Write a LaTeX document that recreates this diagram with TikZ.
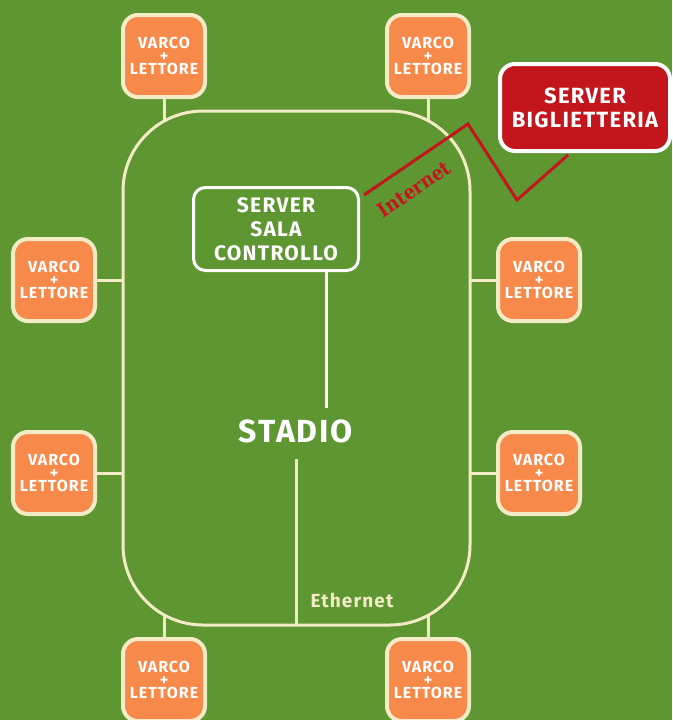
\documentclass[tikz,border=0pt]{standalone}
\usepackage{fontspec}
\setmainfont{Fira Sans}[LetterSpace=6]
\newfontfamily\serifbold{DejaVu Serif Condensed Bold}
\definecolor{bggreen}{HTML}{5E9632}
\definecolor{cream}{HTML}{F3EBC6}
\definecolor{orangebox}{HTML}{F7894A}
\definecolor{redbox}{HTML}{C3161C}
\tikzset{
  varco/.style={draw=cream, line width=4pt, fill=orangebox, rounded corners=15pt,
    minimum width=82pt, minimum height=82pt, inner sep=0pt, align=center,
    text=white, font=\bfseries\fontsize{16}{13}\selectfont},
  conn/.style={draw=cream, line width=3pt},
  serverbox/.style={draw=white, line width=3pt, rounded corners=12pt,
    minimum width=165pt, minimum height=83pt, inner sep=0pt, align=center,
    text=white, font=\bfseries\fontsize{21}{24}\selectfont},
  ticketbox/.style={draw=white, line width=4pt, fill=redbox, rounded corners=15pt,
    minimum width=170pt, minimum height=87pt, inner sep=0pt, align=center,
    text=white, font=\bfseries\fontsize{22}{24}\selectfont},
}
\begin{document}
\begin{tikzpicture}[x=1pt,y=-1pt]
\fill[bggreen] (0,0) rectangle (672,720);
\useasboundingbox (0,0) rectangle (672,720);
% stadium
\draw[conn, rounded corners=80pt] (123,111) rectangle (470,625);
% stadium boundary points
\coordinate (t1) at (164,121);
\coordinate (t2) at (428,121);
\coordinate (b1) at (164,615);
\coordinate (b2) at (428,615);
\coordinate (l1) at (123,280);
\coordinate (l2) at (123,473);
\coordinate (r1) at (470,280);
\coordinate (r2) at (470,473);
\coordinate (sb) at (296,625);
% gates
\node[varco] (v1) at (164,56) {VARCO\\+\\LETTORE};
\node[varco] (v2) at (428,56) {VARCO\\+\\LETTORE};
\node[varco] (v3) at (54,280) {VARCO\\+\\LETTORE};
\node[varco] (v4) at (54,473) {VARCO\\+\\LETTORE};
\node[varco] (v5) at (539,280) {VARCO\\+\\LETTORE};
\node[varco] (v6) at (539,473) {VARCO\\+\\LETTORE};
\node[varco] (v7) at (164,680) {VARCO\\+\\LETTORE};
\node[varco] (v8) at (428,680) {VARCO\\+\\LETTORE};
\draw[conn] (v1.south) -- (t1);
\draw[conn] (v2.south) -- (t2);
\draw[conn] (v3.east) -- (l1);
\draw[conn] (v4.east) -- (l2);
\draw[conn] (v5.west) -- (r1);
\draw[conn] (v6.west) -- (r2);
\draw[conn] (v7.north) -- (b1);
\draw[conn] (v8.north) -- (b2);
% server sala controllo
\node[serverbox] (srv) at (276,229) {SERVER\\SALA\\CONTROLLO};
\coordinate (sc) at (326,408);
\draw[white, line width=3pt] (srv.south -| sc) -- (sc);
% stadio
\node[text=white, font=\bfseries\fontsize{32}{32}\selectfont] (stadio) at (296,431) {STADIO};
\coordinate (eth) at (296,459);
\draw[conn] (eth) -- (sb);
\node[text=cream, font=\bfseries\fontsize{19}{19}\selectfont] (ethlbl) at (352,600) {Ethernet};
% server biglietteria
\node[ticketbox] (tkt) at (585,107.5) {SERVER\\BIGLIETTERIA};
\coordinate (i0) at (364,195);
\coordinate (i1) at (468,124);
\coordinate (i2) at (517,200);
\coordinate (i3) at (568,155);
\draw[redbox, line width=3pt] (i0) -- (i1) -- (i2) -- (i3);
\node[text=redbox, rotate=34, inner sep=0pt, font=\serifbold\fontsize{20}{20}\selectfont] (inet) at (414,189) {Internet};
\end{tikzpicture}
\end{document}
